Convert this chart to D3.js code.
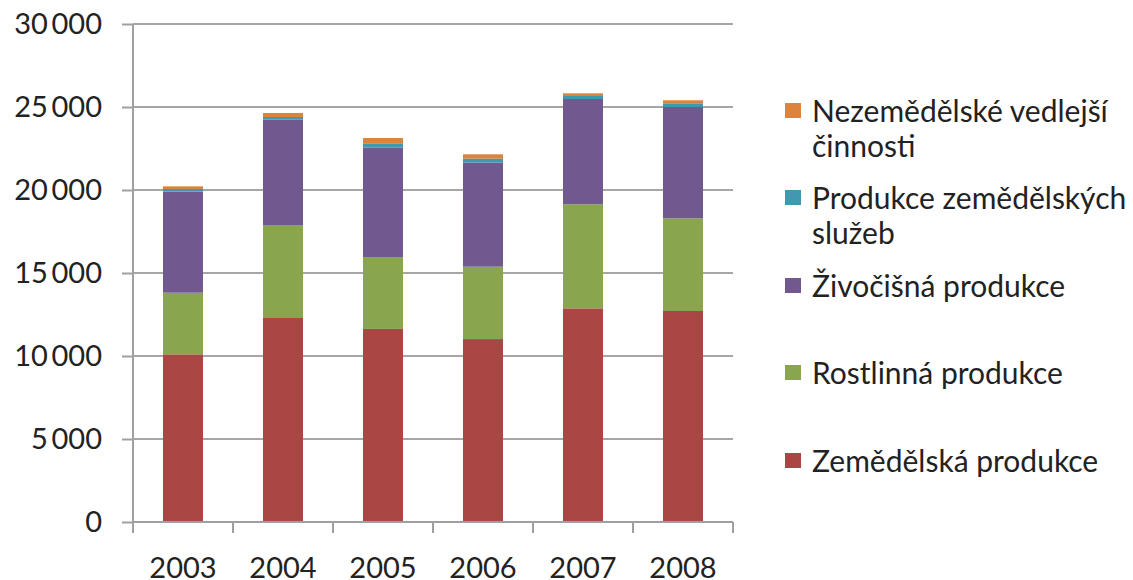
<!DOCTYPE html>
<html>
<head>
<meta charset="utf-8">
<script src="https://cdn.jsdelivr.net/npm/d3@7"></script>
<style>
  body { margin: 0; background: #fff; }
  text { font-family: Lato, "Open Sans", sans-serif; fill: #222; }
</style>
</head>
<body>
<script>
// hodnoty
var years = ["2003", "2004", "2005", "2006", "2007", "2008"];
var zemedelska = [10100, 12290, 11630, 11020, 12870, 12710];
var rostlinna = [3715, 5600, 4330, 4360, 6270, 5580];
var zivocisna = [6085, 6345, 6588, 6265, 6342, 6710];
var sluzby = [160, 163, 265, 241, 181, 223];
var nezemedelske = [160, 241, 320, 265, 162, 181];
var yTicks = [0, 5000, 10000, 15000, 20000, 25000, 30000];

var series = [
    {key: "zem", name: ["Zemědělská produkce"], values: zemedelska, color: "#AA4643"},
    {key: "rost", name: ["Rostlinná produkce"], values: rostlinna, color: "#89A54E"},
    {key: "ziv", name: ["Živočišná produkce"], values: zivocisna, color: "#71588F"},
    {key: "sluz", name: ["Produkce zemědělských", "služeb"], values: sluzby, color: "#4198AF"},
    {key: "nez", name: ["Nezemědělské vedlejší", "činnosti"], values: nezemedelske, color: "#DB843D"}
];

var width = 1133, height = 580;
var plotLeft = 133, plotRight = 733, plotTop = 24, plotBottom = 522;

var svg = d3.select("body").append("svg")
    .attr("width", width)
    .attr("height", height);

var table = years.map(function(yr, i) {
    var row = {year: yr};
    series.forEach(function(s) { row[s.key] = s.values[i]; });
    return row;
});

var stacked = d3.stack().keys(series.map(s => s.key))(table);

var x = d3.scaleBand().domain(years).range([plotLeft, plotRight]).paddingInner(0.6).paddingOuter(0.3);
var y = d3.scaleLinear().domain([0, 30000]).range([plotBottom, plotTop]);

var fmt = function(v) { return d3.format(",")(v).replace(/,/g, "\u2009"); };

// mřížka
svg.append("g").selectAll("line")
    .data(yTicks.slice(1))
    .enter().append("line")
    .attr("x1", plotLeft).attr("x2", plotRight)
    .attr("y1", d => y(d)).attr("y2", d => y(d))
    .style("stroke", "#a6a6a6")
    .style("stroke-width", 2);

// sloupce
svg.append("g").selectAll("g")
    .data(stacked)
    .enter().append("g")
    .style("fill", (d, i) => series[i].color)
    .selectAll("rect")
    .data(d => d)
    .enter().append("rect")
    .attr("x", d => x(d.data.year))
    .attr("width", x.bandwidth())
    .attr("y", d => y(d[1]))
    .attr("height", d => y(d[0]) - y(d[1]));

// osa y
var yAxis = svg.append("g")
    .attr("transform", "translate(" + plotLeft + ",0)")
    .call(d3.axisLeft(y).tickValues(yTicks).tickFormat(fmt).tickSize(11).tickPadding(20));
yAxis.select(".domain").remove();
yAxis.append("line").attr("x1", 0).attr("x2", 0).attr("y1", plotTop).attr("y2", plotBottom + 4);
yAxis.selectAll("line").style("stroke", "#a0a0a0").style("stroke-width", 2);
yAxis.selectAll("text")
    .style("font-family", "Lato, sans-serif")
    .style("font-size", "29px")
    .style("fill", "#222");

// osa x
var bounds = d3.range(years.length + 1).map(i => plotLeft + i * (plotRight - plotLeft) / years.length);
var xg = svg.append("g");
xg.append("line")
    .attr("x1", plotLeft).attr("x2", plotRight)
    .attr("y1", plotBottom).attr("y2", plotBottom)
    .style("stroke", "#a0a0a0").style("stroke-width", 2);
xg.selectAll("line.tick")
    .data(bounds)
    .enter().append("line")
    .attr("class", "tick")
    .attr("x1", d => d).attr("x2", d => d)
    .attr("y1", plotBottom).attr("y2", plotBottom + 11)
    .style("stroke", "#a0a0a0").style("stroke-width", 2);
xg.selectAll("text")
    .data(years)
    .enter().append("text")
    .attr("x", d => x(d) + x.bandwidth() / 2)
    .attr("y", 578)
    .attr("text-anchor", "middle")
    .style("font-size", "29px")
    .text(d => d);

// legenda
var legendY = [122, 209, 297, 384, 472];
var legend = svg.append("g").selectAll("g")
    .data(series.slice().reverse())
    .enter().append("g")
    .attr("transform", (d, i) => "translate(785," + legendY[i] + ")");
legend.append("rect")
    .attr("x", 0).attr("y", -19)
    .attr("width", 16).attr("height", 15)
    .style("fill", d => d.color);
legend.append("text")
    .attr("x", 27)
    .attr("y", 0)
    .style("font-size", "30px")
    .each(function(d) {
        var t = d3.select(this);
        d.name.forEach(function(line, i) {
            t.append("tspan").attr("x", 27).attr("dy", i ? 35 : 0).text(line);
        });
    });
</script>
</body>
</html>
